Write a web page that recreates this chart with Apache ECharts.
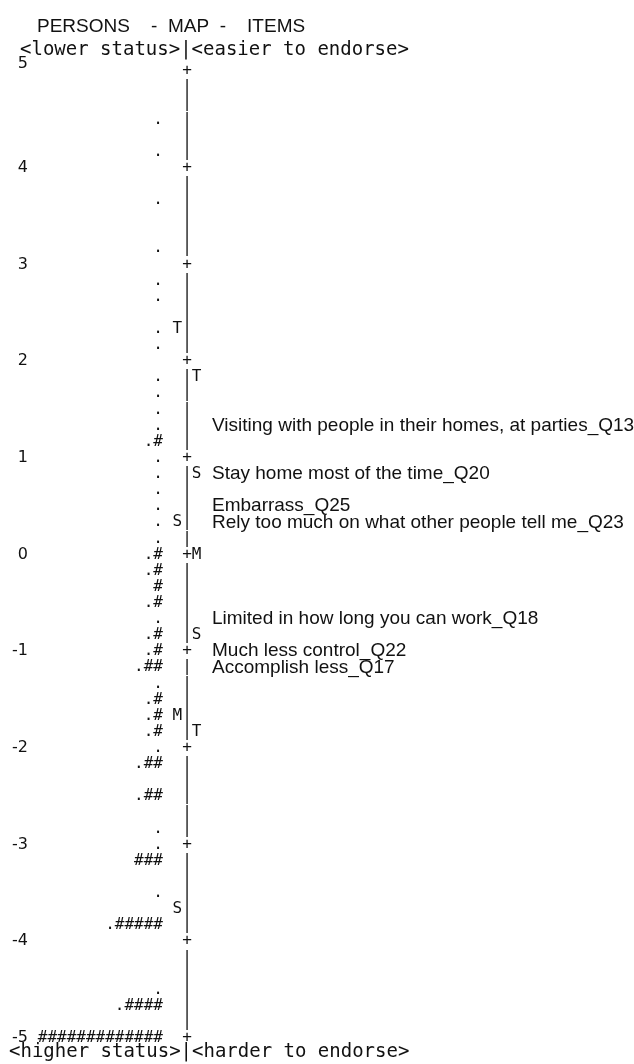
<!DOCTYPE html>
<html>
<head>
<meta charset="utf-8">
<script src="https://cdn.jsdelivr.net/npm/echarts@6/dist/echarts.min.js"></script>
<style>
html, body { margin: 0; padding: 0; background: #fff; }
#map { width: 634px; height: 1064px; }
</style>
</head>
<body>
<div id="map"></div>
<script>
// Wright map text rows, counted down from +5, six rows per logit
var personRows   = [3, 5, 8, 11, 13, 14, 16, 17, 19, 20, 21, 22, 23, 24, 25, 26, 27, 28, 29,
                    30, 31, 32, 33, 34, 35, 36, 37, 38, 39, 40, 41, 42, 43,
                    45, 47, 48, 49, 51, 53, 57, 58, 60];
var personHashes = [0, 0, 0, 0, 0, 0, 0, 0, 0, 0, 0, 0, 1, 0, 0, 0, 0, 0, 0,
                    1, 1, 1, 1, 0, 1, 1, 2, 0, 1, 1, 1, 0, 2,
                    2, 0, 0, 3, 0, 5, 0, 4, 13];
var personDots   = [1, 1, 1, 1, 1, 1, 1, 1, 1, 1, 1, 1, 1, 1, 1, 1, 1, 1, 1,
                    1, 1, 0, 1, 1, 1, 1, 1, 1, 1, 1, 1, 1, 1,
                    1, 1, 1, 0, 1, 1, 1, 1, 0];

var personMarkRows = [16, 28, 40, 52];
var personMarks    = ['T', 'S', 'M', 'S'];
var itemMarkRows   = [19, 25, 30, 35, 41];
var itemMarks      = ['T', 'S', 'M', 'S', 'T'];

var itemNames = [
    'Visiting with people in their homes, at parties_Q13',
    'Stay home most of the time_Q20',
    'Embarrass_Q25',
    'Rely too much on what other people tell me_Q23',
    'Limited in how long you can work_Q18',
    'Much less control_Q22',
    'Accomplish less_Q17'
];
var itemRows = [22, 25, 27, 28, 34, 36, 37];

var rowCount = 61;
var rowsPerLogit = 6;
var topLogit = 5;

function rowToLogit(r) {
    return topLogit - r / rowsPerLogit;
}

var axisX = 187;
var mono = 'DejaVu Sans Mono';
var sans = 'Liberation Sans';
var ink = '#111';

var personData = [];
for (var i = 0; i < personRows.length; i++) {
    var s = (personDots[i] ? '.' : '');
    for (var k = 0; k < personHashes[i]; k++) s += '#';
    personData.push({ value: [163, rowToLogit(personRows[i])], txt: s });
}

var axisData = [];
for (var r = 0; r < rowCount; r++) {
    var pm = personMarkRows.indexOf(r) >= 0 ? personMarks[personMarkRows.indexOf(r)] : ' ';
    var im = itemMarkRows.indexOf(r) >= 0 ? itemMarks[itemMarkRows.indexOf(r)] : ' ';
    var c = (r % rowsPerLogit === 0) ? '+' : '|';
    axisData.push({ value: [axisX, rowToLogit(r)], txt: pm + c + im });
}

var itemData = [];
for (var j = 0; j < itemNames.length; j++) {
    itemData.push({ value: [212, rowToLogit(itemRows[j])], txt: itemNames[j] });
}

function textSeries(data, font, size, align) {
    return {
        type: 'scatter',
        data: data,
        symbolSize: 0,
        silent: true,
        itemStyle: { opacity: 1 },
        label: {
            show: true,
            position: 'inside',
            align: align,
            verticalAlign: 'middle',
            fontFamily: font,
            fontSize: size,
            color: ink,
            opacity: 1,
            formatter: function (p) { return p.data.txt; }
        }
    };
}

function note(text, x, y, align, size) {
    return {
        type: 'text', x: x, y: y, silent: true,
        style: { text: text, align: align, verticalAlign: 'middle', font: size + 'px "DejaVu Sans Mono"', fill: ink }
    };
}

var dom = document.getElementById('map');
var chart = echarts.init(dom);

var option = {
    backgroundColor: '#fff',
    animation: false,
    title: {
        text: 'PERSONS    -  MAP  -    ITEMS',
        left: 32,
        top: 12,
        textStyle: { fontFamily: sans, fontSize: 19, fontWeight: 'normal', color: ink }
    },
    grid: { left: 30, right: 0, top: 71, bottom: 26 },
    xAxis: {
        type: 'value', min: 30, max: 634, show: false
    },
    yAxis: {
        type: 'value',
        min: -5,
        max: 5,
        interval: 1,
        axisLine: { show: false },
        axisTick: { show: false },
        splitLine: { show: false },
        axisLabel: {
            margin: 2,
            fontFamily: 'DejaVu Sans',
            fontSize: 16,
            color: ink,
            formatter: function (v) { return v === 5 ? '{top|5}' : String(v); },
            rich: { top: { fontFamily: 'DejaVu Sans', fontSize: 16, color: ink, padding: [0, 0, 14, 0] } }
        }
    },
    graphic: [
        note('<lower status>|<easier to endorse>', 20, 50, 'left', 19),
        note('<higher status>|<harder to endorse>', 9, 1052, 'left', 19)
    ],
    series: [
        textSeries(personData, mono, 16, 'right'),
        textSeries(axisData, mono, 16, 'center'),
        textSeries(itemData, sans, 19, 'left')
    ]
};

chart.setOption(option);
window.addEventListener('resize', function () {
    chart.resize();
});
</script>
</body>
</html>
